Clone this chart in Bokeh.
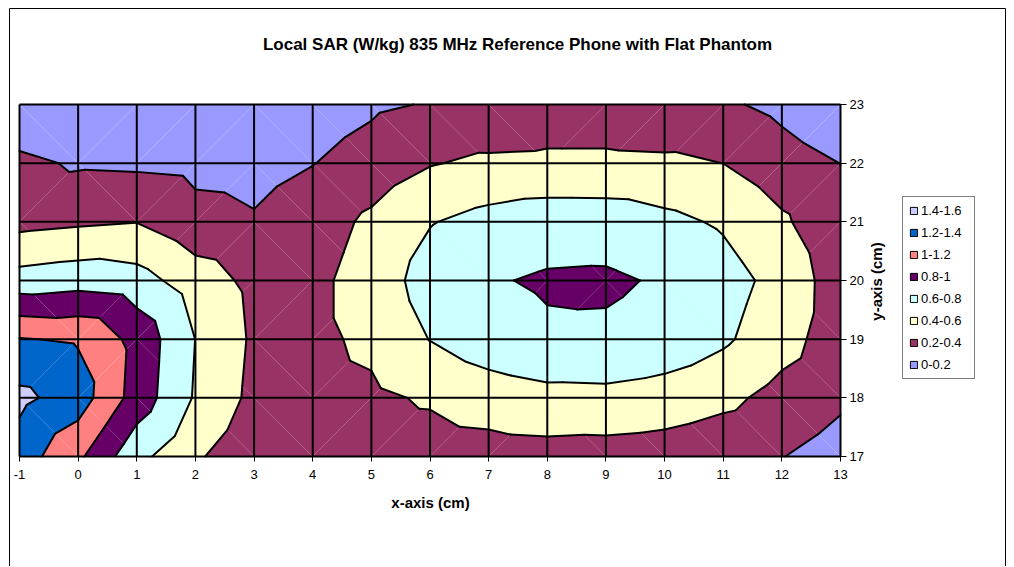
from bokeh.plotting import figure
from bokeh.models import Range1d, FixedTicker, Legend, LegendItem, Label, BoxAnnotation
from bokeh.embed import file_html
from bokeh.resources import INLINE

# ---- data (SAR in W/kg on a 1 cm grid) ----
x_cm = [-1, 0, 1, 2, 3, 4, 5, 6, 7, 8, 9, 10, 11, 12, 13]
y_cm = [17, 18, 19, 20, 21, 22, 23]

sar_y17 = [1.30, 1.04, 0.66, 0.43, 0.25, 0.27, 0.29, 0.30, 0.316, 0.327, 0.317, 0.30, 0.25, 0.205, 0.12]
sar_y18 = [1.45, 1.30, 0.915, 0.58, 0.35, 0.32, 0.36, 0.425, 0.498, 0.541, 0.548, 0.517, 0.453, 0.33, 0.233]
sar_y19 = [1.21, 1.18, 0.936, 0.598, 0.37, 0.35, 0.446, 0.605, 0.71, 0.767, 0.764, 0.72, 0.63, 0.48, 0.29]
sar_y20 = [0.68, 0.72, 0.68, 0.50, 0.35, 0.35, 0.49, 0.683, 0.782, 0.824, 0.832, 0.777, 0.68, 0.533, 0.296]
sar_y21 = [0.34, 0.37, 0.395, 0.265, 0.218, 0.30, 0.44, 0.59, 0.665, 0.704, 0.70, 0.648, 0.576, 0.431, 0.25]
sar_y22 = [0.25, 0.175, 0.166, 0.147, 0.135, 0.195, 0.28, 0.388, 0.44, 0.45, 0.45, 0.44, 0.399, 0.283, 0.198]
sar_y23 = [0.01, 0.09, 0.05, 0.06, 0.04, 0.10, 0.169, 0.212, 0.21, 0.25, 0.25, 0.22, 0.229, 0.15, 0.05]
sar_rows = [sar_y17, sar_y18, sar_y19, sar_y20, sar_y21, sar_y22, sar_y23]

band_edges = [0.0, 0.2, 0.4, 0.6, 0.8, 1.0, 1.2, 1.4, 1.6]
band_labels = ["0-0.2", "0.2-0.4", "0.4-0.6", "0.6-0.8", "0.8-1", "1-1.2", "1.2-1.4", "1.4-1.6"]
band_colors = ["#9999FF", "#993366", "#FFFFCC", "#CCFFFF", "#660066", "#FF8080", "#0066CC", "#CCCCFF"]

title_text = "Local SAR (W/kg) 835 MHz Reference Phone with Flat Phantom"
x_title = "x-axis (cm)"
y_title = "y-axis (cm)"
FONT = "Liberation Sans"

# ---- layout (page pixels) ----
W, H = 1010, 566
PL, PR, PT, PB = 19, 840, 104, 456          # plot-area edges
ux = (PR - PL) / (x_cm[-1] - x_cm[0])
uy = (PB - PT) / (y_cm[-1] - y_cm[0])
x_start = x_cm[0] - PL / ux
x_end = x_cm[0] + (W - PL) / ux
y_end = y_cm[-1] + PT / uy
y_start = y_cm[-1] - (H - PT) / uy


# ---- triangulated linear contouring (spreadsheet-style surface) ----
def triangles():
    tris = []
    for j in range(len(y_cm) - 1):
        for i in range(len(x_cm) - 1):
            a = (x_cm[i], y_cm[j], sar_rows[j][i])
            b = (x_cm[i + 1], y_cm[j], sar_rows[j][i + 1])
            c = (x_cm[i + 1], y_cm[j + 1], sar_rows[j + 1][i + 1])
            d = (x_cm[i], y_cm[j + 1], sar_rows[j + 1][i])
            if abs(a[2] - c[2]) >= abs(b[2] - d[2]):
                tris += [(a, b, c), (a, c, d)]
            else:
                tris += [(a, b, d), (b, c, d)]
    return tris


def clip(poly, level, keep_above):
    out = []
    n = len(poly)
    for k in range(n):
        p, q = poly[k], poly[(k + 1) % n]
        pin = p[2] >= level if keep_above else p[2] <= level
        qin = q[2] >= level if keep_above else q[2] <= level
        if pin:
            out.append(p)
        if pin != qin:
            t = (level - p[2]) / (q[2] - p[2])
            out.append((p[0] + t * (q[0] - p[0]), p[1] + t * (q[1] - p[1]), level))
    return out


tris = triangles()
pxs, pys, pcols = [], [], []
for k in range(len(band_labels)):
    lo, hi = band_edges[k], band_edges[k + 1]
    for tri in tris:
        poly = clip(list(tri), lo, True)
        if len(poly) >= 3:
            poly = clip(poly, hi, False)
        if len(poly) >= 3:
            pxs.append([v[0] for v in poly])
            pys.append([v[1] for v in poly])
            pcols.append(band_colors[k])

sxs, sys_ = [], []
for L in band_edges[1:-1]:
    for tri in tris:
        pts = []
        for k in range(3):
            p, q = tri[k], tri[(k + 1) % 3]
            if (p[2] - L) * (q[2] - L) < 0:
                t = (L - p[2]) / (q[2] - p[2])
                pts.append((p[0] + t * (q[0] - p[0]), p[1] + t * (q[1] - p[1])))
        if len(pts) == 2:
            sxs.append([pts[0][0], pts[1][0]])
            sys_.append([pts[0][1], pts[1][1]])

# ---- figure: frame covers the whole canvas ----
p = figure(width=W, height=H, x_range=Range1d(x_start, x_end), y_range=Range1d(y_start, y_end),
           y_axis_location="right", toolbar_location=None, output_backend="svg", min_border=0)
p.background_fill_color = "white"
p.border_fill_color = "white"
p.outline_line_color = None
p.xgrid.visible = False
p.ygrid.visible = False

# chart-area border
p.add_layout(BoxAnnotation(left=9, right=1005, top=8, bottom=H + 10,
                           left_units="canvas", right_units="canvas",
                           top_units="canvas", bottom_units="canvas",
                           fill_color=None, fill_alpha=0, line_color="black",
                           line_alpha=1.0, line_width=1))

p.patches(xs=pxs, ys=pys, fill_color=pcols, line_color=None)
p.multi_line(xs=sxs, ys=sys_, line_color="black", line_width=2, line_cap="round", line_join="round")

# grid lines of the plot area
p.segment(x0=x_cm, y0=[y_cm[0]] * len(x_cm), x1=x_cm, y1=[y_cm[-1]] * len(x_cm),
          line_color="black", line_width=2)
p.segment(x0=[x_cm[0]] * len(y_cm), y0=y_cm, x1=[x_cm[-1]] * len(y_cm), y1=y_cm,
          line_color="black", line_width=2)

xa = p.xaxis[0]
xa.ticker = FixedTicker(ticks=x_cm)
xa.fixed_location = y_cm[0]
xa.bounds = (x_cm[0], x_cm[-1])
xa.major_label_overrides = {v: str(v) for v in x_cm}
ya = p.yaxis[0]
ya.ticker = FixedTicker(ticks=y_cm)
ya.fixed_location = x_cm[-1]
ya.bounds = (y_cm[0], y_cm[-1])
for ax in (xa, ya):
    ax.major_tick_in = 0
    ax.major_tick_out = 5
    ax.minor_tick_line_color = None
    ax.major_tick_line_color = "black"
    ax.axis_line_color = "black"
    ax.major_label_text_font = FONT
    ax.major_label_text_font_size = "13px"
    ax.major_label_text_color = "black"
xa.major_label_standoff = 8
ya.major_tick_out = 6
ya.major_label_standoff = 3

# legend (proxy renderers carry only the swatch style, nothing is drawn)
nan = float("nan")
items = []
for k in reversed(range(len(band_labels))):
    r = p.quad(left=[nan], right=[nan], top=[nan], bottom=[nan], fill_color=band_colors[k],
               line_color="black", line_width=1)
    items.append(LegendItem(label=band_labels[k], renderers=[r]))
legend = Legend(items=items, location=(902, H - 379), padding=6, spacing=7, label_height=14,
                glyph_height=9, glyph_width=9, label_standoff=3, label_width=47,
                border_line_color="black", border_line_width=1,
                background_fill_color="white", background_fill_alpha=1.0,
                label_text_font=FONT, label_text_font_size="13px", label_text_color="black")
p.add_layout(legend, "center")

p.add_layout(Label(x=517, y=H - 44, x_units="screen", y_units="screen", text=title_text,
                   text_font=FONT, text_font_style="bold", text_font_size="17px",
                   text_align="center", text_baseline="middle", text_color="black"))
p.add_layout(Label(x=430, y=H - 502, x_units="screen", y_units="screen", text=x_title,
                   text_font=FONT, text_font_style="bold", text_font_size="15px",
                   text_align="center", text_baseline="middle", text_color="black"))
p.add_layout(Label(x=876, y=H - 281, x_units="screen", y_units="screen", text=y_title,
                   angle=90, angle_units="deg",
                   text_font=FONT, text_font_style="bold", text_font_size="15px",
                   text_align="center", text_baseline="middle", text_color="black"))

open("out.html", "w").write(file_html(p, INLINE))
